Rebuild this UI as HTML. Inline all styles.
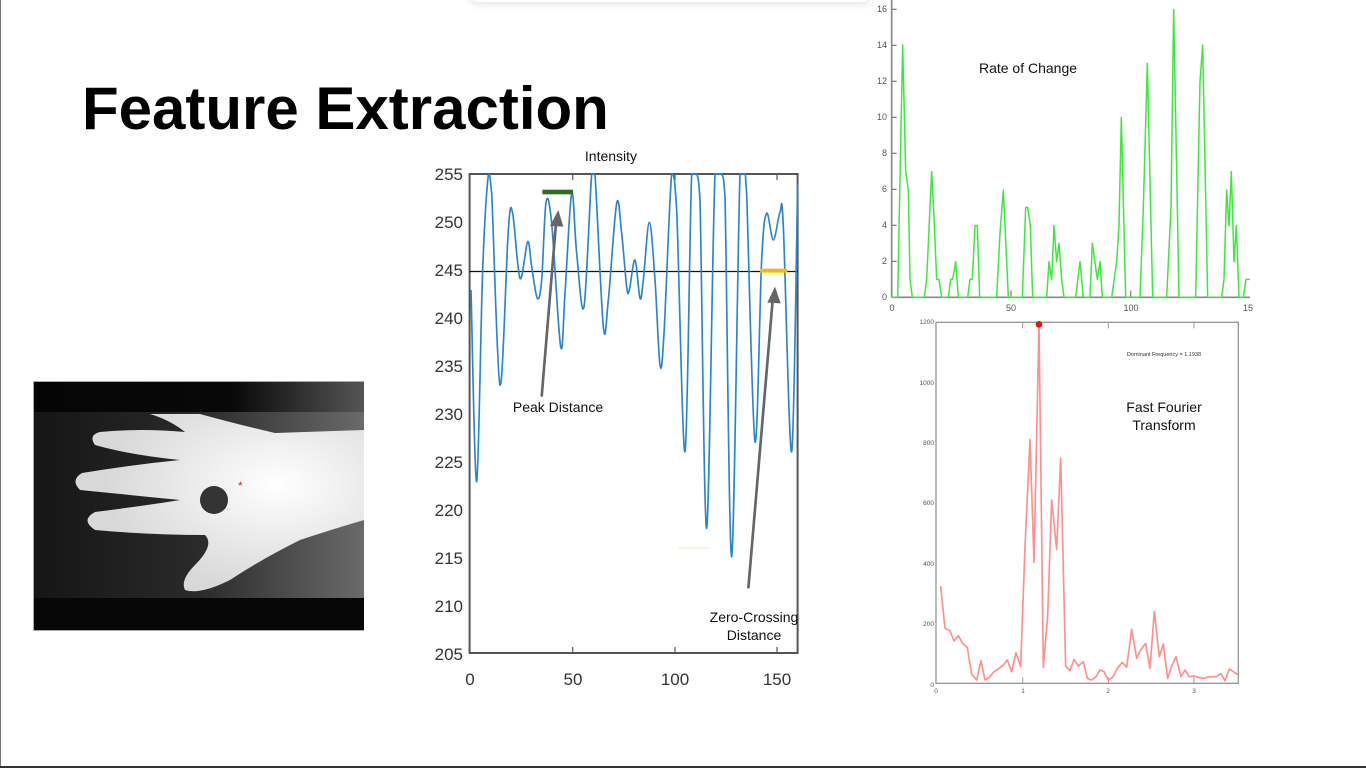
<!DOCTYPE html>
<html><head><meta charset="utf-8"><style>
html,body{margin:0;padding:0;background:#fff;}
body{width:1366px;height:768px;position:relative;overflow:hidden;font-family:"Liberation Sans",sans-serif;}
.t{position:absolute;white-space:nowrap;}
</style></head><body>
<div style="position:absolute;left:0;top:0;width:1px;height:768px;background:#777"></div>
<div style="position:absolute;left:0;top:766px;width:1366px;height:2px;background:#333"></div>
<div style="position:absolute;left:470px;top:-20px;width:400px;height:22px;box-shadow:0 2px 8px rgba(0,0,0,0.12);border-radius:8px;background:#fff"></div>
<div class="t" style="left:82px;top:74px;font-size:60px;font-weight:bold;color:#000;">Feature Extraction</div>

<svg width="1366" height="768" style="position:absolute;left:0;top:0">
<defs>
<linearGradient id="bg" x1="0" x2="1"><stop offset="0" stop-color="#151515"/><stop offset="0.5" stop-color="#2a2a2a"/><stop offset="1" stop-color="#6a6a6a"/></linearGradient>
<linearGradient id="tb" x1="0" x2="1"><stop offset="0" stop-color="#050505"/><stop offset="0.6" stop-color="#080808"/><stop offset="1" stop-color="#555"/></linearGradient>
<radialGradient id="hg" cx="0.7" cy="0.4" r="0.6"><stop offset="0" stop-color="#fff"/><stop offset="1" stop-color="#d8d8d8"/></radialGradient>
</defs>
<rect x="33" y="381" width="331" height="250" fill="#aaa"/>
<rect x="34" y="382" width="330" height="32" fill="url(#tb)"/>
<rect x="34" y="412" width="330" height="187" fill="url(#bg)"/>
<rect x="34" y="598" width="330" height="32" fill="#070707"/>
<g fill="url(#hg)">
<path d="M150,414 L200,414 Q240,425 275,433 L364,430 L364,520 Q330,530 300,540 Q260,560 230,580 Q200,595 185,590 Q180,580 195,565 Q215,545 205,535 Q150,535 95,530 Q80,520 95,512 Q150,505 180,500 Q130,495 80,490 Q70,480 82,473 Q130,465 180,460 Q130,455 95,445 Q88,435 100,432 Q140,428 185,432 Q170,420 150,414 Z"/>
</g>
<circle cx="214" cy="500" r="14" fill="#333"/>
<text x="238" y="490" font-size="12" fill="#e22" font-family="Liberation Sans">*</text>

<g stroke="#555" stroke-width="2" fill="none">
<rect x="469.6" y="174" width="328" height="479"/>
</g>
<g stroke="#555" stroke-width="1.2">
<line x1="572.7" y1="174" x2="572.7" y2="180"/><line x1="675" y1="174" x2="675" y2="180"/><line x1="777" y1="174" x2="777" y2="180"/>
<line x1="572.7" y1="653" x2="572.7" y2="647"/><line x1="675" y1="653" x2="675" y2="647"/><line x1="777" y1="653" x2="777" y2="647"/>
</g>
<line x1="469.6" y1="271.5" x2="798" y2="271.5" stroke="#111" stroke-width="1.3"/>
<g transform="translate(440,160) scale(0.33333)">
<path id="ip" fill="none" stroke="#2a86cc" stroke-width="5" stroke-linejoin="round" d=""/>
<rect x="307" y="89" width="92" height="14" fill="#2f6e1c"/>
<rect x="960" y="326" width="82" height="12" rx="5" fill="#f5b800"/>
<rect x="712" y="1160" width="95" height="8" fill="#f4f7e6"/>
<g stroke="#666" stroke-width="8" fill="#666">
<line x1="305" y1="710" x2="348" y2="190"/>
<polygon points="355,150 330,198 370,200" stroke="none"/>
<line x1="925" y1="1285" x2="998" y2="420"/>
<polygon points="1005,380 982,428 1022,430" stroke="none"/>
</g>
</g>
<g font-size="17" fill="#333" text-anchor="end" font-family="Liberation Sans">
<text x="463" y="180">255</text><text x="463" y="228">250</text><text x="463" y="276">245</text><text x="463" y="324">240</text><text x="463" y="372">235</text><text x="463" y="420">230</text><text x="463" y="468">225</text><text x="463" y="516">220</text><text x="463" y="564">215</text><text x="463" y="612">210</text><text x="463" y="660">205</text>
</g>
<g font-size="17" fill="#333" text-anchor="middle" font-family="Liberation Sans">
<text x="470" y="685">0</text><text x="573" y="685">50</text><text x="675" y="685">100</text><text x="777" y="685">150</text>
</g>
<g font-size="14" fill="#111" text-anchor="middle" font-family="Liberation Sans">
<text x="611" y="161">Intensity</text>
<text x="558" y="412">Peak Distance</text>
<text x="754" y="622">Zero-Crossing</text>
<text x="754" y="640">Distance</text>
</g>

<g transform="translate(860,0) scale(0.33333)">
<line x1="95" y1="0" x2="95" y2="892" stroke="#888" stroke-width="5"/>
<line x1="95" y1="892" x2="1170" y2="892" stroke="#888" stroke-width="5"/>
<g stroke="#888" stroke-width="4"><line x1="453" y1="892" x2="453" y2="872"/><line x1="812" y1="892" x2="812" y2="872"/>
<line x1="95" y1="28" x2="110" y2="28"/><line x1="95" y1="136" x2="110" y2="136"/><line x1="95" y1="244" x2="110" y2="244"/><line x1="95" y1="352" x2="110" y2="352"/><line x1="95" y1="460" x2="110" y2="460"/><line x1="95" y1="568" x2="110" y2="568"/><line x1="95" y1="676" x2="110" y2="676"/><line x1="95" y1="784" x2="110" y2="784"/></g>
<polyline fill="none" stroke="#3be83b" stroke-width="4.5" stroke-linejoin="round" points="95,892 113,892 128,135 137,515 145,570 150,838 157,892 193,892 200,838 215,515 222,650 230,838 237,838 245,892 265,892 272,838 278,838 287,785 295,892 323,892 330,838 337,838 345,677 352,677 359,892 410,892 420,700 430,570 445,892 487,892 497,622 503,622 511,677 518,892 560,892 567,785 575,838 582,677 590,785 597,730 605,838 612,892 647,892 660,785 670,892 690,892 697,730 712,838 720,785 727,892 755,892 770,785 777,677 784,352 797,892 840,892 850,622 862,190 878,892 920,892 933,622 941,28 957,892 1007,892 1020,245 1028,135 1043,892 1085,892 1092,838 1100,570 1107,677 1114,515 1122,785 1129,677 1137,892 1150,892 1158,838 1170,838"/>
</g>
<g font-size="9" fill="#555" text-anchor="end" font-family="Liberation Sans">
<text x="887" y="12">16</text><text x="887" y="48">14</text><text x="887" y="84">12</text><text x="887" y="120">10</text><text x="887" y="156">8</text><text x="887" y="192">6</text><text x="887" y="228">4</text><text x="887" y="264">2</text><text x="887" y="300">0</text>
</g>
<g font-size="9" fill="#555" text-anchor="middle" font-family="Liberation Sans">
<text x="892" y="311">0</text><text x="1011" y="311">50</text><text x="1131" y="311">100</text><text x="1248" y="311">15</text>
</g>
<text x="1028" y="73" font-size="14" fill="#111" text-anchor="middle" font-family="Liberation Sans">Rate of Change</text>

<g transform="translate(900,310) scale(0.33333)">
<rect x="108" y="37" width="907" height="1083" fill="none" stroke="#999" stroke-width="4"/>
<g stroke="#999" stroke-width="3"><line x1="368" y1="37" x2="368" y2="55"/><line x1="625" y1="37" x2="625" y2="55"/><line x1="882" y1="37" x2="882" y2="55"/>
<line x1="368" y1="1120" x2="368" y2="1102"/><line x1="625" y1="1120" x2="625" y2="1102"/><line x1="882" y1="1120" x2="882" y2="1102"/></g>
<polyline fill="none" stroke="#ff8f8f" stroke-width="5" stroke-linejoin="round" points="122,828 135,955 150,962 162,993 175,977 188,1000 202,1012 215,1093 230,1110 243,1052 255,1110 268,1102 282,1085 295,1077 310,1065 322,1050 335,1085 348,1028 362,1070 375,710 390,388 402,757 417,42 430,1072 443,918 455,570 470,718 482,445 497,1068 510,1082 522,1048 535,1068 550,1055 562,1105 575,1110 588,1100 600,1080 612,1085 625,1110 638,1102 652,1075 667,1057 680,1072 695,958 710,1045 722,1020 737,1000 750,1075 763,905 778,1040 790,1002 803,1105 815,1068 828,1040 843,1100 855,1080 868,1100 882,1098 895,1102 910,1105 922,1102 935,1100 950,1100 962,1090 975,1112 988,1077 1000,1085 1015,1095"/>
<circle cx="417" cy="43" r="10" fill="#e11"/>
</g>
<g font-size="6.5" fill="#555" text-anchor="end" font-family="Liberation Sans">
<text x="934" y="324">1200</text><text x="934" y="385">1000</text><text x="934" y="445">800</text><text x="934" y="505">600</text><text x="934" y="566">400</text><text x="934" y="626">200</text><text x="934" y="687">0</text>
</g>
<g font-size="6.5" fill="#555" text-anchor="middle" font-family="Liberation Sans">
<text x="936" y="693">0</text><text x="1023" y="693">1</text><text x="1108" y="693">2</text><text x="1194" y="693">3</text>
</g>
<text x="1164" y="356" font-size="5.5" fill="#333" text-anchor="middle" font-family="Liberation Sans">Dominant Frequency = 1.1938</text>
<text x="1164" y="412" font-size="14" fill="#111" text-anchor="middle" font-family="Liberation Sans">Fast Fourier</text>
<text x="1164" y="430" font-size="14" fill="#111" text-anchor="middle" font-family="Liberation Sans">Transform</text>
</svg>
<script>
(function(){
var s="93,390 110,965 128,330 145,45 155,100 180,675 205,210 218,160 240,355 263,245 275,320 292,415 305,360 318,128 335,190 362,560 375,400 395,100 410,280 432,440 455,42 465,45 490,500 505,420 530,130 545,220 560,380 568,390 585,300 600,415 610,360 628,187 645,360 660,615 672,520 695,42 710,150 735,875 755,42 770,42 780,120 800,1105 825,42 845,42 855,110 875,1190 900,42 915,42 920,100 945,845 965,300 980,160 1000,240 1020,157 1030,200 1055,875 1073,70";
var p=s.split(" ").map(function(t){return t.split(",").map(Number);});
var d="M"+p[0][0]+","+p[0][1];
for(var i=0;i<p.length-1;i++){
var p0=p[i-1]||p[i],p1=p[i],p2=p[i+1],p3=p[i+2]||p2;
var c1x=p1[0]+(p2[0]-p0[0])/6,c1y=p1[1]+(p2[1]-p0[1])/6;
var c2x=p2[0]-(p3[0]-p1[0])/6,c2y=p2[1]-(p3[1]-p1[1])/6;
c1y=Math.max(42,Math.min(1200,c1y));c2y=Math.max(42,Math.min(1200,c2y));
d+=" C"+c1x+","+c1y+" "+c2x+","+c2y+" "+p2[0]+","+p2[1];
}
document.getElementById("ip").setAttribute("d",d);
})();
</script>
</body></html>
